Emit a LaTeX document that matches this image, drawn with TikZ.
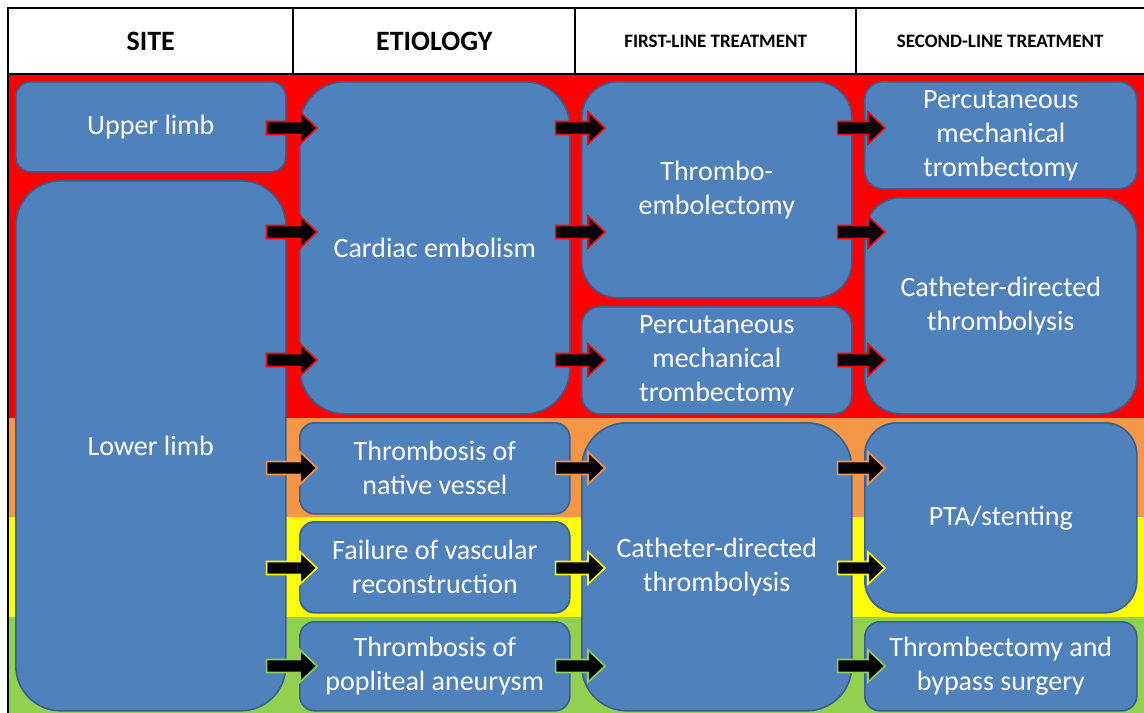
\documentclass[tikz,border=0pt]{standalone}
\usepackage{fontspec}
\setmainfont{Carlito}
\usetikzlibrary{calc}
\definecolor{boxblue}{HTML}{4F81BD}
\definecolor{boxedge}{HTML}{3A5F8C}
\definecolor{bandred}{HTML}{FF0000}
\definecolor{bandorange}{HTML}{F79646}
\definecolor{bandyellow}{HTML}{FFFF00}
\definecolor{bandgreen}{HTML}{92D050}
\newcommand\barrow[3]{\filldraw[draw=#1,fill=black,line width=1.6bp,line join=miter]
  let \p1=#2, \p2=#3 in (\x1,\y1+6.5bp) -- (\x2-17bp,\y1+6.5bp) -- (\x2-17bp,\y1+16bp)
  -- (\x2,\y1) -- (\x2-17bp,\y1-16bp) -- (\x2-17bp,\y1-6.5bp) -- (\x1,\y1-6.5bp) -- cycle;}
\tikzset{
  box/.style={draw=boxedge, fill=boxblue, line width=1.6bp, text=white, align=center,
    font=\fontsize{28bp}{34bp}\selectfont, inner sep=0pt, anchor=north west},
  headcell/.style={inner sep=0pt, anchor=north west, minimum height=66bp, text=black},
  bighead/.style={font=\fontsize{28bp}{32bp}\selectfont\bfseries},
  smallhead/.style={font=\fontsize{19bp}{22bp}\selectfont\bfseries},
}
\begin{document}
\begin{tikzpicture}[x=1bp,y=-1bp]
\useasboundingbox (0,0) rectangle (1144,713);
\fill[white] (0,0) rectangle (1144,713);
% colour bands
\fill[bandred] (8,74) rectangle (1144,418);
\fill[bandorange] (8,418) rectangle (1144,517);
\fill[bandyellow] (8,517) rectangle (1144,617);
\fill[bandgreen] (8,617) rectangle (1144,713);
% header
\node[headcell, minimum width=285bp, bighead] (hsite) at (8,8) {SITE};
\node[headcell, minimum width=282bp, bighead] (hetio) at (293,8) {ETIOLOGY};
\node[headcell, minimum width=281bp, smallhead] (hfirst) at (575,8) {FIRST-LINE TREATMENT};
\node[headcell, minimum width=288bp, smallhead] (hsecond) at (856,8) {SECOND-LINE TREATMENT};
\draw[line width=2bp] (1144,8) -- (8,8) -- (8,713);
\draw[line width=2bp] (8,74) -- (1144,74);
\draw[line width=2bp] (hetio.north west) -- (hetio.south west);
\draw[line width=2bp] (hfirst.north west) -- (hfirst.south west);
\draw[line width=2bp] (hsecond.north west) -- (hsecond.south west);
% site column
\node[box, minimum width=270bp, minimum height=90bp, rounded corners=15bp] (up) at (15,81) {Upper limb};
\node[box, minimum width=270bp, minimum height=530bp, rounded corners=45bp] (low) at (15,180) {Lower limb};
% etiology column
\node[box, minimum width=270bp, minimum height=332bp, rounded corners=45bp] (card) at (299,81) {Cardiac embolism};
\node[box, minimum width=270bp, minimum height=91bp, rounded corners=15bp] (nat) at (299,422) {Thrombosis of\\native vessel};
\node[box, minimum width=270bp, minimum height=91bp, rounded corners=15bp] (fail) at (299,521) {Failure of vascular\\reconstruction};
\node[box, minimum width=270bp, minimum height=89bp, rounded corners=15bp] (pop) at (299,621) {Thrombosis of\\popliteal aneurysm};
% first-line column
\node[box, minimum width=270bp, minimum height=216bp, rounded corners=36bp] (emb) at (581,81) {Thrombo-\\embolectomy};
\node[box, minimum width=270bp, minimum height=107bp, rounded corners=18bp] (perca) at (581,306) {Percutaneous\\mechanical\\trombectomy};
\node[box, minimum width=270bp, minimum height=288bp, rounded corners=45bp] (cdta) at (581,422) {Catheter-directed\\thrombolysis};
% second-line column
\node[box, minimum width=272bp, minimum height=107bp, rounded corners=18bp] (percb) at (864,81) {Percutaneous\\mechanical\\trombectomy};
\node[box, minimum width=272bp, minimum height=216bp, rounded corners=36bp] (cdtb) at (864,197) {Catheter-directed\\thrombolysis};
\node[box, minimum width=272bp, minimum height=190bp, rounded corners=32bp] (pta) at (864,422) {PTA/stenting};
\node[box, minimum width=272bp, minimum height=89bp, rounded corners=15bp] (tb) at (864,621) {Thrombectomy and\\bypass surgery};
% arrow rows
\coordinate (r1) at (0,128);
\coordinate (r2) at (0,232);
\coordinate (r3) at (0,360);
\coordinate (r4) at (0,468);
\coordinate (r5) at (0,568);
\coordinate (r6) at (0,666);
% site -> etiology
\barrow{bandred}{([xshift=-20bp]up.east |- r1)}{([xshift=18bp]card.west |- r1)}
\barrow{bandred}{([xshift=-20bp]low.east |- r2)}{([xshift=18bp]card.west |- r2)}
\barrow{bandred}{([xshift=-20bp]low.east |- r3)}{([xshift=18bp]card.west |- r3)}
\barrow{bandorange}{([xshift=-20bp]low.east |- r4)}{([xshift=18bp]nat.west |- r4)}
\barrow{bandyellow}{([xshift=-20bp]low.east |- r5)}{([xshift=18bp]fail.west |- r5)}
\barrow{bandgreen}{([xshift=-20bp]low.east |- r6)}{([xshift=18bp]pop.west |- r6)}
% etiology -> first line
\barrow{bandred}{([xshift=-15bp]card.east |- r1)}{([xshift=24bp]emb.west |- r1)}
\barrow{bandred}{([xshift=-15bp]card.east |- r2)}{([xshift=24bp]emb.west |- r2)}
\barrow{bandred}{([xshift=-15bp]card.east |- r3)}{([xshift=24bp]perca.west |- r3)}
\barrow{bandorange}{([xshift=-15bp]nat.east |- r4)}{([xshift=24bp]cdta.west |- r4)}
\barrow{bandyellow}{([xshift=-15bp]fail.east |- r5)}{([xshift=24bp]cdta.west |- r5)}
\barrow{bandgreen}{([xshift=-15bp]pop.east |- r6)}{([xshift=24bp]cdta.west |- r6)}
% first line -> second line
\barrow{bandred}{([xshift=-15bp]emb.east |- r1)}{([xshift=21bp]percb.west |- r1)}
\barrow{bandred}{([xshift=-15bp]emb.east |- r2)}{([xshift=21bp]cdtb.west |- r2)}
\barrow{bandred}{([xshift=-15bp]perca.east |- r3)}{([xshift=21bp]cdtb.west |- r3)}
\barrow{bandorange}{([xshift=-15bp]cdta.east |- r4)}{([xshift=21bp]pta.west |- r4)}
\barrow{bandyellow}{([xshift=-15bp]cdta.east |- r5)}{([xshift=21bp]pta.west |- r5)}
\barrow{bandgreen}{([xshift=-15bp]cdta.east |- r6)}{([xshift=21bp]tb.west |- r6)}
\end{tikzpicture}
\end{document}
